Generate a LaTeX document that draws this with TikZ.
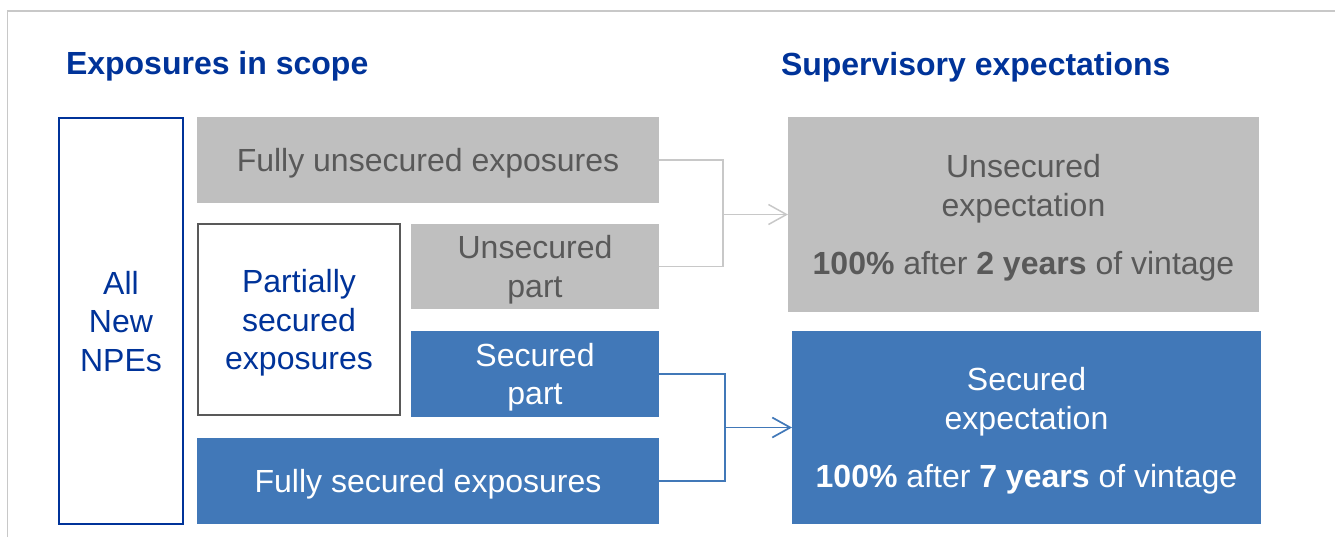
\documentclass[tikz,border=0pt]{standalone}
\usepackage{fontspec}
\setmainfont{Liberation Sans}
\usetikzlibrary{arrows.meta,positioning}

\definecolor{ecbblue}{RGB}{0,51,153}
\definecolor{boxblue}{RGB}{65,120,184}
\definecolor{boxgrey}{RGB}{191,191,191}
\definecolor{textgrey}{RGB}{89,89,89}
\definecolor{linegrey}{RGB}{200,200,200}

\begin{document}
\begin{tikzpicture}[x=0.5pt,y=-0.5pt,>={Straight Barb[length=9pt,width=10pt]},
    every node/.style={font=\fontsize{16}{19.2}\selectfont,align=center,text depth=0pt,inner sep=0pt,outer sep=0pt},
    title/.style={text=ecbblue,font=\fontsize{16}{19.2}\selectfont\bfseries,anchor=base west},
    greybox/.style={fill=boxgrey,text=textgrey},
    bluebox/.style={fill=boxblue,text=white},
    greyline/.style={draw=linegrey,line width=0.75pt},
    blueline/.style={draw=boxblue,line width=0.85pt}]

            \useasboundingbox (0,0) rectangle (1335,537);
            \draw[greyline] (7.5,537) |- (1335,11);

            \node[title] (lefttitle) at (66,74) {Exposures in scope};
            \node[title] (righttitle) at (781,75) {Supervisory expectations};

            \node[draw=ecbblue,line width=1pt,text=ecbblue,minimum width=62pt,minimum height=203pt,anchor=north west] (npe) at (59,118) {All\\New\\NPEs};

            \node[greybox,minimum width=231pt,minimum height=43pt] (fullunsec) [right=7pt of npe.north east,anchor=north west,yshift=0.5pt] {Fully unsecured exposures};
            \node[draw=textgrey,line width=1pt,text=ecbblue,minimum width=101pt,minimum height=95.5pt] (partial) [below=10.5pt of fullunsec.south west,anchor=north west,xshift=0.5pt] {Partially\\secured\\exposures};
            \node[greybox,minimum width=124pt,minimum height=42.5pt] (unsecpart) [right=5.5pt of partial.north east,anchor=north west] {Unsecured\\part};
            \node[bluebox,minimum width=124pt,minimum height=43pt] (secpart) [below=11pt of unsecpart] {Secured\\part};
            \node[bluebox,minimum width=231pt,minimum height=43pt] (fullsec) [below=11.5pt of partial.south west,anchor=north west,xshift=-0.5pt] {Fully secured exposures};

            \node[greybox,minimum width=235.5pt,minimum height=97.5pt] (unsecexp) [right=64.5pt of fullunsec.north east,anchor=north west] {Unsecured\\expectation\\[10pt]\textbf{100\%} after \textbf{2 years} of vintage};
            \node[bluebox,minimum width=234.5pt,minimum height=96.5pt] (secexp) [below=9.5pt of unsecexp.south west,anchor=north west,xshift=2pt] {Secured\\expectation\\[10pt]\textbf{100\%} after \textbf{7 years} of vintage};

            \path (unsecexp.west) ++(-65,0) coordinate (gjoin);
            \path (secexp.west) ++(-67,0) coordinate (bjoin);

            \draw[greyline] (fullunsec.east) -| (gjoin) |- (unsecpart.east);
            \draw[greyline,->] (gjoin) -- (unsecexp.west);
            \draw[blueline] (secpart.east) -| (bjoin) |- (fullsec.east);
            \draw[blueline,->] (bjoin) -- (secexp.west);

        \end{tikzpicture}
\end{document}
